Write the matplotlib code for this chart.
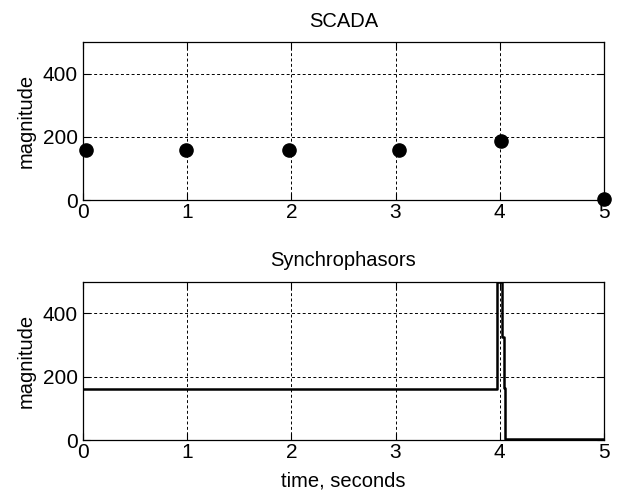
import matplotlib
matplotlib.use("Agg")
import matplotlib.pyplot as plt

plt.rcParams['font.family'] = ['Liberation Sans', 'DejaVu Sans']

# SCADA samples (one reading per second)
scada_time = [0.025, 0.99, 1.973, 3.03, 4.015, 5.0]
scada_mag = [160, 160, 160, 160, 186, 2]

# Synchrophasor stream (step-held values)
sync_time = [0.0, 3.975, 4.02, 4.04, 4.055, 5.0]
sync_mag = [162, 500, 326, 163, 4, 4]

x_ticks = [0, 1, 2, 3, 4, 5]
y_ticks = [0, 200, 400]

fig = plt.figure(figsize=(6.19, 4.93), dpi=100)
ax1 = fig.add_axes([0.1346, 0.5943, 0.8407, 0.3199])
ax2 = fig.add_axes([0.1346, 0.1075, 0.8407, 0.3215])


def style(ax, title):
    ax.set_xlim(0, 5)
    ax.set_ylim(0, 500)
    ax.set_xticks(x_ticks)
    ax.set_yticks(y_ticks)
    ax.tick_params(direction='in', length=5, width=0.8, labelsize=15,
                   top=True, right=True, pad=2)
    ax.tick_params(axis='y', pad=4)
    for s in ax.spines.values():
        s.set_linewidth(0.9)
        s.set_color('black')
    ax.grid(True, color='black', linestyle=(0, (3, 2.5)), linewidth=0.7)
    ax.set_ylabel('magnitude', fontsize=14.5, labelpad=5)
    ax.set_title(title, fontsize=14.5, pad=11)


style(ax1, 'SCADA')
ax1.plot(scada_time, scada_mag, linestyle='none', marker='o',
         markersize=9.5, color='black', clip_on=False, zorder=5)

style(ax2, 'Synchrophasors')
ax2.plot(sync_time, sync_mag, drawstyle='steps-post', color='black',
         linewidth=1.8, zorder=5)
ax2.set_xlabel('time, seconds', fontsize=14.5, labelpad=7)

fig.savefig('out.png', dpi=100, facecolor='white')
